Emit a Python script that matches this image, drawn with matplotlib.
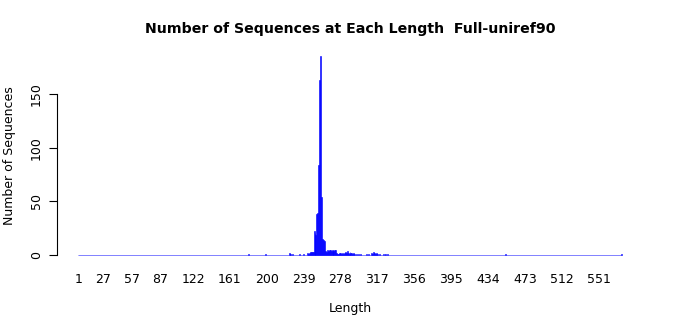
import matplotlib
matplotlib.use('Agg')
import numpy as np
import matplotlib.pyplot as plt

# sequence lengths 1..575, most of them have no sequence at all
lengths = np.arange(1, 576)
# nonzero counts (length -> number of sequences)
nonzero = {
    181: 1, 199: 1, 224: 2, 225: 1, 227: 1, 235: 1, 239: 1, 243: 2, 244: 1,
    245: 2, 246: 3, 247: 3, 248: 3, 249: 3, 250: 22, 251: 21, 252: 19,
    253: 38, 254: 39, 255: 84, 256: 163, 257: 185, 258: 54, 259: 15,
    260: 14, 261: 13, 262: 4, 263: 3, 264: 5, 265: 4, 266: 5, 267: 5,
    268: 4, 269: 5, 270: 5, 271: 4, 272: 5, 273: 5, 274: 2, 275: 1,
    276: 1, 277: 2, 278: 2, 279: 1, 280: 2, 281: 1, 282: 2, 283: 3,
    284: 2, 285: 4, 286: 2, 287: 1, 288: 3, 289: 2, 290: 2, 291: 1,
    292: 2, 293: 1, 295: 1, 297: 1, 299: 1, 305: 1, 308: 1, 311: 2,
    312: 1, 313: 3, 314: 2, 315: 1, 316: 2, 317: 1, 319: 1, 323: 1,
    325: 1, 326: 1, 328: 1, 453: 1, 575: 1,
}
tickLabels = [1, 27, 57, 87, 122, 161, 200, 239, 278, 317, 356, 395, 434, 473, 512, 551]
yTicks = [0, 50, 100, 150]

counts = np.array([nonzero.get(l, 0) for l in lengths])

plt.rcParams['font.family'] = ['DejaVu Sans']
fig = plt.figure(figsize=(7, 3.15), dpi=100)
ax = fig.add_axes([0.0814, 0.165, 0.8372, 0.681])

ax.bar(lengths, counts, width=1.0, color='#0000ff', edgecolor='#0000ff', linewidth=0.4)

# R style padding of 4% on every side
n = len(lengths)
ax.set_xlim(lengths[0] - 0.04 * n, lengths[-1] + 0.04 * n)
ymax = counts.max()
ax.set_ylim(-0.04 * ymax, ymax * 1.04)

for s in ['top', 'right', 'bottom']:
    ax.spines[s].set_visible(False)
ax.spines['left'].set_bounds(0, 150)
ax.spines['left'].set_linewidth(0.8)

ax.set_yticks(yTicks)
ax.set_yticklabels([str(v) for v in yTicks], rotation=90, va='center', fontsize=9)
ax.tick_params(axis='y', length=6, width=0.8, pad=4)
ax.set_xticks(tickLabels)
ax.set_xticklabels([str(v) for v in tickLabels], fontsize=9)
ax.tick_params(axis='x', length=0, pad=7)

ax.set_xlabel('Length', fontsize=9, labelpad=12)
ax.set_ylabel('Number of Sequences', fontsize=9, labelpad=10)
ax.set_title('Number of Sequences at Each Length  Full-uniref90', fontsize=10.2, fontweight='bold', pad=11)

fig.savefig('out.png', dpi=100)
